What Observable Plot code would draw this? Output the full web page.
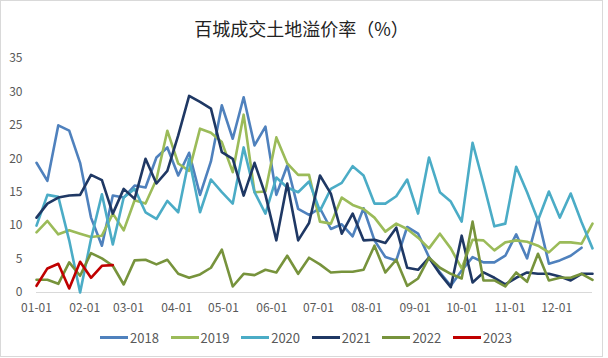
<!DOCTYPE html>
<html><head><meta charset="utf-8">
<script src="https://cdn.jsdelivr.net/npm/d3@7"></script>
<script src="https://cdn.jsdelivr.net/npm/@observablehq/plot@0.6"></script>
<style>
body{margin:0;background:#fff;}
#wrap{position:relative;width:608px;height:358px;overflow:hidden;background:#fff;font-family:"Noto Sans CJK SC","Noto Sans",sans-serif;}
#frame{position:absolute;left:0;top:0;width:601px;height:355px;border:1px solid #d9d9d9;}
#title{position:absolute;left:0;top:15px;width:603px;text-align:center;font-size:18px;line-height:26px;color:#222;}
#chart{position:absolute;left:0;top:45px;}
.lg{position:absolute;top:328px;height:18px;display:flex;align-items:center;font-size:13px;color:#595959;}
.lg span.sw{display:inline-block;width:28px;height:3px;margin-right:2px;}
</style>
</head><body>
<div id="wrap"><div id="frame"></div><div id="title">百城成交土地溢价率（%）</div><div id="chart"></div></div>
<script>
const years = ["2018","2019","2020","2021","2022","2023"];
const colors = ["#4f81bd","#9bbb59","#4bacc6","#1f3864","#77933c","#c00000"];
const yTicks = [0,5,10,15,20,25,30,35];
const monthTicks = ["01-01","02-01","03-01","04-01","05-01","06-01","07-01","08-01","09-01","10-01","11-01","12-01"];

const v2018 = [19.4,16.7,25.0,24.2,19.4,11.2,7.0,14.5,14.2,16.0,15.7,20.2,21.7,17.5,20.9,14.6,19.6,28.0,23.0,29.2,22.0,24.8,14.6,19.0,12.5,11.6,12.6,9.5,10.2,8.4,12.6,7.8,5.3,4.8,9.8,8.8,5.3,3.0,1.0,3.3,5.3,4.5,4.5,5.5,8.7,5.1,11.2,4.3,4.8,5.5,6.7];
const v2019 = [9.0,10.7,8.7,9.3,8.8,8.3,8.5,11.8,9.3,13.8,13.3,16.9,24.2,19.3,18.2,24.5,23.9,22.5,18.0,26.6,15.0,15.1,23.2,19.3,17.6,17.6,10.6,10.3,14.2,13.1,12.5,11.2,9.1,10.3,9.5,8.2,6.6,8.8,6.6,3.6,7.9,7.8,6.3,7.5,7.8,7.6,7.0,6.0,7.5,7.5,7.3,10.3];
const v2020 = [10.0,14.6,14.3,7.8,0.0,8.0,14.7,7.2,14.2,15.5,12.0,11.0,13.7,12.0,20.0,12.0,16.9,15.0,13.3,21.7,15.0,11.8,17.2,15.7,15.0,16.6,12.2,15.5,16.4,18.9,17.5,13.3,13.3,14.4,16.9,11.8,20.2,15.0,13.6,10.6,22.4,16.3,9.9,10.3,18.8,15.0,10.8,15.1,11.2,14.8,10.5,6.6];
const v2021 = [11.2,13.3,14.2,14.5,14.6,17.6,16.8,11.8,15.5,14.0,20.0,16.3,18.2,23.5,29.4,28.5,27.5,21.0,20.0,14.5,19.4,14.6,7.8,16.3,7.8,10.4,17.5,14.8,8.8,11.8,7.8,7.9,7.4,9.7,3.7,3.4,5.2,2.8,0.8,8.5,1.5,3.0,2.2,1.2,2.2,3.0,2.8,2.8,2.4,1.8,2.8,2.8];
const v2022 = [1.9,1.9,1.3,4.5,2.5,5.9,5.1,4.0,1.2,4.8,4.9,4.2,4.9,2.8,2.2,2.7,3.7,6.4,0.9,2.8,2.6,3.4,3.0,5.5,2.8,5.2,4.2,3.0,3.1,3.1,3.4,7.0,3.0,4.9,1.0,2.1,5.2,3.7,2.8,2.1,10.6,1.8,1.8,0.9,3.0,1.6,5.8,1.8,2.2,2.2,2.8,1.9];
const v2023 = [1.0,3.6,4.3,0.6,4.6,2.2,4.0,4.1];

const series = [v2018,v2019,v2020,v2021,v2022,v2023];
const start = new Date(Date.UTC(2001,0,1));
const weekDate = i => d3.utcDay.offset(start, 7*i);
const rows = [];
series.forEach((vals, k) => vals.forEach((v, i) => rows.push({year: years[k], date: weekDate(i), value: v})));
const tickDates = monthTicks.map(s => new Date(Date.UTC(2001, +s.slice(0,2)-1, +s.slice(3))));

const chart = Plot.plot({
  width: 608, height: 277,
  marginTop: 13, marginBottom: 30, marginLeft: 36, marginRight: 16,
  style: {fontFamily: '"Noto Sans CJK SC","Noto Sans",sans-serif', fontSize: "12px", color: "#595959", background: "transparent"},
  x: {type: "utc", domain: [start, weekDate(51)], ticks: tickDates, tickFormat: d3.utcFormat("%m-%d"), tickSize: 0, tickPadding: 11, label: null},
  y: {domain: [0, 35], ticks: yTicks, tickSize: 0, tickPadding: 14, label: null},
  color: {domain: years, range: colors},
  marks: [
    Plot.ruleY([0], {stroke: "#d9d9d9", strokeWidth: 1}),
    Plot.lineY(rows, {x: "date", y: "value", z: "year", stroke: "year", strokeWidth: 2.6, strokeLinejoin: "round", strokeLinecap: "round"})
  ]
});
document.getElementById("chart").appendChild(chart);

const wrap = document.getElementById("wrap");
years.forEach((y, k) => {
  const d = document.createElement("div");
  d.className = "lg";
  d.style.left = (100 + k*70.6) + "px";
  d.innerHTML = `<span class="sw" style="background:${colors[k]}"></span><span>${y}</span>`;
  wrap.appendChild(d);
});
</script>
</body></html>
